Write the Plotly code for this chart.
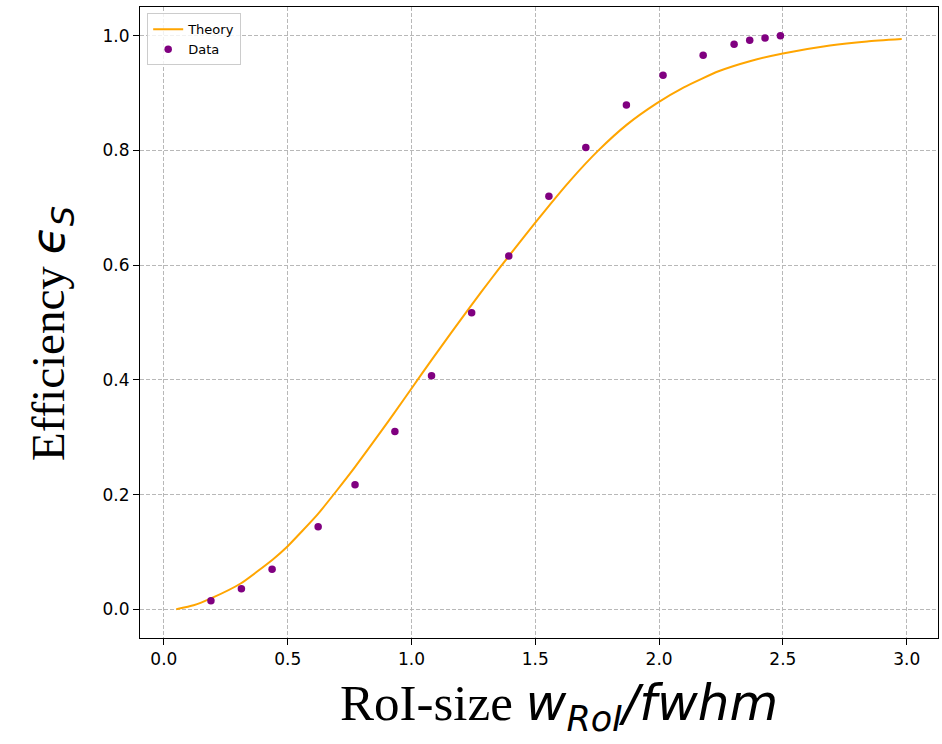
import plotly.graph_objects as go

# Theoretical signal efficiency versus RoI size (in units of fwhm)
theory_x = [0.05, 0.12, 0.19, 0.31, 0.44, 0.50, 0.62, 0.70, 0.77, 0.88,
            0.93, 1.01, 1.08, 1.16, 1.24, 1.32, 1.39, 1.50, 1.56, 1.64,
            1.755, 1.87, 1.99, 2.10, 2.24, 2.37, 2.50, 2.69, 2.84, 2.98]
theory_y = [0.000, 0.007, 0.019, 0.045, 0.087, 0.110, 0.165, 0.208, 0.247, 0.312,
            0.342, 0.391, 0.434, 0.482, 0.529, 0.575, 0.614, 0.674, 0.706, 0.747,
            0.800, 0.845, 0.882, 0.910, 0.938, 0.956, 0.969, 0.983, 0.990, 0.994]

# Measured efficiency
data_x = [0.19, 0.313, 0.437, 0.623, 0.772, 0.933, 1.081, 1.243, 1.393, 1.555,
          1.704, 1.868, 2.016, 2.178, 2.303, 2.366, 2.428, 2.490]
data_y = [0.015, 0.036, 0.070, 0.144, 0.217, 0.310, 0.407, 0.517, 0.616, 0.720,
          0.805, 0.879, 0.931, 0.966, 0.985, 0.992, 0.996, 1.000]

x_ticks = [0.0, 0.5, 1.0, 1.5, 2.0, 2.5, 3.0]
y_ticks = [0.0, 0.2, 0.4, 0.6, 0.8, 1.0]

fig = go.Figure()
fig.add_trace(go.Scatter(
    x=theory_x, y=theory_y, mode="lines", name="Theory",
    line=dict(color="#FFA500", width=2, shape="spline", smoothing=0.5),
))
fig.add_trace(go.Scatter(
    x=data_x, y=data_y, mode="markers", name="Data",
    marker=dict(color="#800080", size=7.5),
))

axis_common = dict(
    showline=True, linecolor="black", linewidth=1, mirror=True,
    ticks="outside", ticklen=6, tickwidth=1, tickcolor="black",
    showgrid=True, gridcolor="#b8b8b8", gridwidth=1, griddash="4px,2px",
    zeroline=False,
    tickfont=dict(family="DejaVu Sans", size=17, color="black"),
)

fig.update_xaxes(
    range=[-0.0965, 3.1265], tickvals=x_ticks,
    ticktext=[f"{v:.1f}" for v in x_ticks], **axis_common,
)
fig.update_yaxes(
    range=[-0.05, 1.05], tickvals=y_ticks,
    ticktext=[f"{v:.1f}" for v in y_ticks], **axis_common,
)

MATH = "font-family:'DejaVu Sans';font-style:oblique;font-size:{}px"

fig.add_annotation(
    text=("RoI-size "
          f"<span style=\"{MATH.format(50)}\">w<sub>RoI</sub>/fwhm</span>"),
    xref="paper", yref="paper", x=0.525, y=-0.108,
    xanchor="center", yanchor="middle", showarrow=False,
    font=dict(family="Liberation Serif", size=51, color="black"),
)
fig.add_annotation(
    text=("Efficiency "
          f"<span style=\"{MATH.format(46)}\">ϵ<sub>S</sub></span>"),
    xref="paper", yref="paper", x=-0.110, y=0.482,
    xanchor="center", yanchor="middle", showarrow=False, textangle=-90,
    font=dict(family="Liberation Serif", size=47, color="black"),
)

fig.update_layout(
    width=942, height=744,
    margin=dict(l=140, r=4, t=7, b=106),
    paper_bgcolor="white", plot_bgcolor="white",
    showlegend=True,
    legend=dict(
        x=0.009, y=0.99, xanchor="left", yanchor="top",
        bgcolor="rgba(255,255,255,0.8)", bordercolor="#cccccc", borderwidth=1,
        font=dict(family="DejaVu Sans", size=13, color="black"),
        itemwidth=30, tracegroupgap=0,
    ),
)

fig.write_html("out.html")
